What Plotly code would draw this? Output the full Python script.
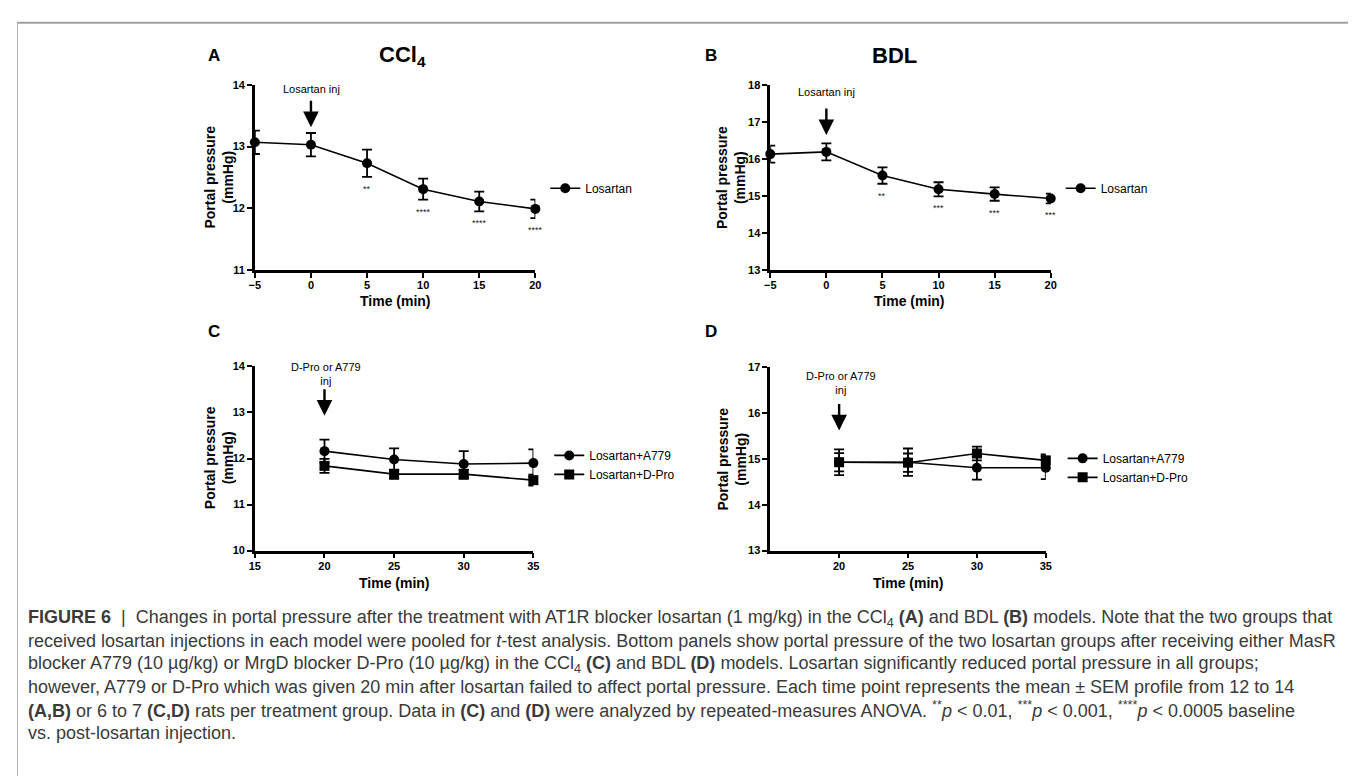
import plotly.graph_objects as go

# ---------------- data ----------------
time_ab = [-5, 0, 5, 10, 15, 20]
ccl4_losartan_mean = [13.07, 13.03, 12.73, 12.31, 12.11, 11.99]
ccl4_losartan_sem = [0.19, 0.19, 0.22, 0.17, 0.16, 0.15]
ccl4_stars = ["", "", "**", "****", "****", "****"]

bdl_losartan_mean = [16.13, 16.19, 15.55, 15.18, 15.05, 14.93]
bdl_losartan_sem = [0.23, 0.23, 0.22, 0.19, 0.18, 0.13]
bdl_stars = ["", "", "**", "***", "***", "***"]

time_cd = [20, 25, 30, 35]
ccl4_a779_mean = [12.16, 11.98, 11.88, 11.90]
ccl4_a779_sem = [0.25, 0.24, 0.28, 0.30]
ccl4_dpro_mean = [11.84, 11.66, 11.66, 11.53]
ccl4_dpro_sem = [0.15, 0.10, 0.10, 0.12]

bdl_a779_mean = [14.93, 14.93, 14.81, 14.81]
bdl_a779_sem = [0.28, 0.30, 0.26, 0.25]
bdl_dpro_mean = [14.93, 14.92, 15.12, 14.97]
bdl_dpro_sem = [0.20, 0.20, 0.15, 0.13]

xticks_ab = [-5, 0, 5, 10, 15, 20]
xticks_c = [15, 20, 25, 30, 35]
xticks_d = [20, 25, 30, 35]
losartan_injection_time = 0
blocker_injection_time = 20

# ---------------- layout helpers ----------------
W, H = 1356, 776


def fx(x):
    return x / W


def fy(y):
    return 1 - y / H


FONT = "Liberation Sans, Arial, sans-serif"
CAPFONT = "Liberation Sans, Arial, sans-serif"

fig = go.Figure()


def add_series(x, y, err, name, symbol, xa, ya, legend):
    fig.add_trace(go.Scatter(
        x=x, y=y, name=name, mode="lines+markers",
        xaxis=xa, yaxis=ya, legend=legend, showlegend=True,
        line=dict(color="black", width=1.6),
        marker=dict(color="black", size=10, symbol=symbol),
        error_y=dict(type="data", array=err, visible=True, color="black",
                     thickness=1.8, width=5),
        cliponaxis=False,
    ))


add_series(time_ab, ccl4_losartan_mean, ccl4_losartan_sem, "Losartan", "circle", "x", "y", "legend")
add_series(time_ab, bdl_losartan_mean, bdl_losartan_sem, "Losartan", "circle", "x2", "y2", "legend2")
add_series(time_cd, ccl4_a779_mean, ccl4_a779_sem, "Losartan+A779", "circle", "x3", "y3", "legend3")
add_series(time_cd, ccl4_dpro_mean, ccl4_dpro_sem, "Losartan+D-Pro", "square", "x3", "y3", "legend3")
add_series(time_cd, bdl_a779_mean, bdl_a779_sem, "Losartan+A779", "circle", "x4", "y4", "legend4")
add_series(time_cd, bdl_dpro_mean, bdl_dpro_sem, "Losartan+D-Pro", "square", "x4", "y4", "legend4")

axis_common = dict(
    showline=True, linecolor="black", linewidth=2.5, ticks="outside",
    ticklen=5, tickwidth=2, tickcolor="black", showgrid=False, zeroline=False,
    tickfont=dict(family=FONT, size=11, color="black", weight="bold"),
    fixedrange=True,
)
xaxis_common = dict(axis_common, ticklabelstandoff=-2)

layout = dict(
    width=W, height=H, margin=dict(l=0, r=0, t=0, b=0),
    paper_bgcolor="white", plot_bgcolor="white", showlegend=True,
    xaxis=dict(domain=[fx(243), fx(526)], range=[-5, 20], tickvals=xticks_ab, anchor="y", **xaxis_common),
    yaxis=dict(domain=[fy(260), fy(72)], range=[11, 14], dtick=1, anchor="x", **axis_common),
    xaxis2=dict(domain=[fx(763), fx(1046)], range=[-5, 20], tickvals=xticks_ab, anchor="y2", **xaxis_common),
    yaxis2=dict(domain=[fy(260), fy(72)], range=[13, 18], dtick=1, anchor="x2", **axis_common),
    xaxis3=dict(domain=[fx(243), fx(524)], range=[15, 35], tickvals=xticks_c, anchor="y3", **xaxis_common),
    yaxis3=dict(domain=[fy(545), fy(358)], range=[10, 14], dtick=1, anchor="x3", **axis_common),
    xaxis4=dict(domain=[fx(763), fx(1041)], range=[15, 35], tickvals=xticks_d, anchor="y4", **xaxis_common),
    yaxis4=dict(domain=[fy(545), fy(359)], range=[13, 17], dtick=1, anchor="x4", **axis_common),
)

legend_common = dict(font=dict(family=FONT, size=12, color="black"), bgcolor="rgba(0,0,0,0)",
                     borderwidth=0, itemwidth=30, tracegroupgap=2)
layout["legend"] = dict(x=fx(536), y=fy(177), xanchor="left", yanchor="middle", **legend_common)
layout["legend2"] = dict(x=fx(1056), y=fy(177), xanchor="left", yanchor="middle", **legend_common)
layout["legend3"] = dict(x=fx(540), y=fy(458), xanchor="left", yanchor="middle", **legend_common)
layout["legend4"] = dict(x=fx(1058), y=fy(461), xanchor="left", yanchor="middle", **legend_common)
fig.update_layout(**layout)

ann = []


def text_px(x, y, text, size, bold=False, angle=0, color="black", family=FONT, xanchor="center"):
    ann.append(dict(x=fx(x), y=fy(y), xref="paper", yref="paper", text=text, showarrow=False,
                    xanchor=xanchor, yanchor="middle", textangle=angle,
                    font=dict(family=family, size=size, color=color, weight="bold" if bold else "normal")))


# panel letters and titles
for lx, ly, lt in [(202, 42, "A"), (703, 42, "B"), (202, 322, "C"), (703, 322, "D")]:
    text_px(lx, ly, lt, 17, bold=True)
text_px(392, 43, "CCl<sub>4</sub>", 22, bold=True)
text_px(888, 42, "BDL", 22, bold=True)

# axis titles
for cx, cy in [(207, 166), (724, 166), (207, 451), (724, 452)]:
    text_px(cx, cy, "Portal pressure<br>(mmHg)", 14, bold=True, angle=-90)
for cx, cy in [(385, 292), (903, 292), (384, 578), (902, 578)]:
    text_px(cx, cy, "Time (min)", 14, bold=True)

# injection labels
text_px(300, 76, "Losartan inj", 11)
text_px(820, 79, "Losartan inj", 11)
text_px(315, 366, "D-Pro or A779<br>inj", 11)
text_px(834, 375, "D-Pro or A779<br>inj", 11)

# arrows (tip y in pixels, x at injection time)
for xa, tx, tip_y in [("x", losartan_injection_time, 115), ("x2", losartan_injection_time, 123),
                      ("x3", blocker_injection_time, 408), ("x4", blocker_injection_time, 423)]:
    ann.append(dict(x=tx, y=fy(tip_y), xref=xa, yref="paper", ax=0, ay=-28, axref="pixel", ayref="pixel",
                    text="", showarrow=True, arrowhead=2, arrowsize=1.3, arrowwidth=2.4,
                    arrowcolor="black", standoff=0))

# significance stars
for xs, ys, es, st, xa, ya in [(time_ab, ccl4_losartan_mean, ccl4_losartan_sem, ccl4_stars, "x", "y"),
                               (time_ab, bdl_losartan_mean, bdl_losartan_sem, bdl_stars, "x2", "y2")]:
    for xv, yv, ev, sv in zip(xs, ys, es, st):
        if sv:
            ann.append(dict(x=xv, y=yv - ev, xref=xa, yref=ya, text=sv, showarrow=False,
                            yanchor="top", yshift=-5, font=dict(family=FONT, size=9, color="#222")))

# caption
caption_lines = [
    "<b>FIGURE 6</b>  |  Changes in portal pressure after the treatment with AT1R blocker losartan (1 mg/kg) in the CCl<sub>4</sub> <b>(A)</b> and BDL <b>(B)</b> models. Note that the two groups that",
    "received losartan injections in each model were pooled for <i>t</i>-test analysis. Bottom panels show portal pressure of the two losartan groups after receiving either MasR",
    "blocker A779 (10 µg/kg) or MrgD blocker D-Pro (10 µg/kg) in the CCl<sub>4</sub> <b>(C)</b> and BDL <b>(D)</b> models. Losartan significantly reduced portal pressure in all groups;",
    "however, A779 or D-Pro which was given 20 min after losartan failed to affect portal pressure. Each time point represents the mean ± SEM profile from 12 to 14",
    "<b>(A,B)</b> or 6 to 7 <b>(C,D)</b> rats per treatment group. Data in <b>(C)</b> and <b>(D)</b> were analyzed by repeated-measures ANOVA. <sup>**</sup><i>p</i> &lt; 0.01, <sup>***</sup><i>p</i> &lt; 0.001, <sup>****</sup><i>p</i> &lt; 0.0005 baseline",
    "vs. post-losartan injection.",
]
for i, line in enumerate(caption_lines):
    text_px(12, 614 + i * 23.2, line, 18, color="#3a3a3a", family=CAPFONT, xanchor="left")

fig.update_layout(annotations=ann)

# frame
fig.update_layout(shapes=[
    dict(type="line", xref="paper", yref="paper", x0=fx(3), x1=fx(1353), y0=fy(9), y1=fy(9),
         line=dict(color="#a0a0a0", width=2)),
    dict(type="line", xref="paper", yref="paper", x0=fx(3.5), x1=fx(3.5), y0=fy(9), y1=0,
         line=dict(color="#b5b5b5", width=1)),
    dict(type="line", xref="paper", yref="paper", x0=fx(1352.5), x1=fx(1352.5), y0=fy(9), y1=0,
         line=dict(color="#b5b5b5", width=1)),
])

fig.write_html("out.html")
